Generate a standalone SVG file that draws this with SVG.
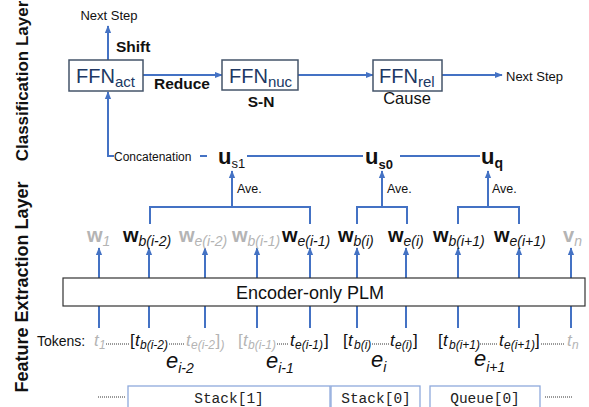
<svg xmlns="http://www.w3.org/2000/svg" width="589" height="407" viewBox="0 0 589 407">
<defs>
<marker id="ah" viewBox="0 0 10 10" refX="9" refY="5" markerWidth="8" markerHeight="8" markerUnits="userSpaceOnUse" orient="auto"><path d="M0,1 L10,5 L0,9 z" fill="#4472c4"/></marker>
</defs>
<style>
text{font-family:"Liberation Sans",Arial,sans-serif;fill:#111}
.lay{font-size:18px;font-weight:bold}
.ffnbox{fill:#fff;stroke:#44546a;stroke-width:1.5}
.ffn{font-size:20px;fill:#203864}
.ffs{font-size:15px;fill:#203864}
.lbl{font-size:15.5px;font-weight:bold}
.sm{font-size:13px}
.ave{font-size:12.5px}
.c{fill:none;stroke:#4472c4;stroke-width:2}
.ca{fill:none;stroke:#4472c4;stroke-width:2;marker-end:url(#ah)}
.u{font-size:22px;font-weight:bold}
.us{font-size:13px}
.w{font-size:20px;font-weight:bold}
.ws{font-size:14px;font-style:italic;font-weight:normal}
.g{fill:#b4b4b4}
.tk{font-size:17px;font-style:italic}
.br{font-size:17px}
.ts{font-size:12px;font-style:italic}
.dot{stroke:#333;stroke-width:1;stroke-dasharray:1 1;fill:none}
.e{font-size:22px;font-style:italic}
.es{font-size:14px;font-style:italic}
.mono{font-family:"Liberation Mono","Courier New",monospace;font-size:14.5px;fill:#222}
.sbox{fill:#fff;stroke:#8faadc;stroke-width:1.3}
</style>
<rect width="589" height="407" fill="#fff"/>

<g id="layer-labels">
<text class="lay" text-anchor="middle" transform="translate(28,81) rotate(-90)" style="font-size:17px">Classification Layer</text>
<text class="lay" text-anchor="middle" transform="translate(28,287) rotate(-90)">Feature Extraction Layer</text>
</g>

<g id="connectors">
<line class="ca" x1="108" y1="60" x2="108" y2="26"/>
<line class="ca" x1="143" y1="75" x2="222" y2="75"/>
<line class="ca" x1="298" y1="75" x2="373" y2="75"/>
<line class="ca" x1="442" y1="75" x2="502" y2="75"/>
<polyline class="ca" points="114,156 108,156 108,92"/>
<line class="c" x1="200" y1="156" x2="207" y2="156"/>
<line class="c" x1="247" y1="156" x2="363" y2="156"/>
<line class="c" x1="400" y1="156" x2="480" y2="156"/>
<line class="ca" x1="232" y1="207" x2="232" y2="171"/>
<line class="ca" x1="382" y1="207" x2="382" y2="171"/>
<line class="ca" x1="488" y1="207" x2="488" y2="171"/>
<polyline class="c" points="150,224 150,207 310,207 310,224"/>
<polyline class="c" points="357,224 357,207 407,207 407,224"/>
<polyline class="c" points="458,224 458,207 519,207 519,224"/>
<g>
<line class="ca" x1="99" y1="278" x2="99" y2="248"/>
<line class="ca" x1="149" y1="278" x2="149" y2="248"/>
<line class="ca" x1="205" y1="278" x2="205" y2="248"/>
<line class="ca" x1="257" y1="278" x2="257" y2="248"/>
<line class="ca" x1="310" y1="278" x2="310" y2="248"/>
<line class="ca" x1="357" y1="278" x2="357" y2="248"/>
<line class="ca" x1="406" y1="278" x2="406" y2="248"/>
<line class="ca" x1="458" y1="278" x2="458" y2="248"/>
<line class="ca" x1="519" y1="278" x2="519" y2="248"/>
<line class="ca" x1="571" y1="278" x2="571" y2="248"/>
</g>
<g>
<line class="c" x1="99" y1="306" x2="99" y2="328"/>
<line class="c" x1="149" y1="306" x2="149" y2="328"/>
<line class="c" x1="205" y1="306" x2="205" y2="328"/>
<line class="c" x1="257" y1="306" x2="257" y2="328"/>
<line class="c" x1="310" y1="306" x2="310" y2="328"/>
<line class="c" x1="357" y1="306" x2="357" y2="328"/>
<line class="c" x1="406" y1="306" x2="406" y2="328"/>
<line class="c" x1="458" y1="306" x2="458" y2="328"/>
<line class="c" x1="519" y1="306" x2="519" y2="328"/>
<line class="c" x1="571" y1="306" x2="571" y2="328"/>
</g>
</g>

<g id="next-step-top"><text class="sm" x="109" y="20" text-anchor="middle">Next Step</text></g>
<g id="label-shift"><text class="lbl" x="116" y="52">Shift</text></g>
<g id="label-reduce"><text class="lbl" x="154" y="89">Reduce</text></g>
<g id="label-sn"><text class="lbl" x="261" y="107" text-anchor="middle">S-N</text></g>
<g id="label-cause"><text x="407" y="104" text-anchor="middle" style="font-size:16.5px">Cause</text></g>
<g id="next-step-right"><text class="sm" x="506" y="81">Next Step</text></g>

<g id="ffn-act">
<rect class="ffnbox" x="69" y="60" width="74" height="31"/>
<text x="76" y="83"><tspan class="ffn">FFN</tspan><tspan class="ffs" dy="4">act</tspan></text>
</g>
<g id="ffn-nuc">
<rect class="ffnbox" x="222" y="60" width="76" height="30"/>
<text x="229" y="83"><tspan class="ffn">FFN</tspan><tspan class="ffs" dy="4">nuc</tspan></text>
</g>
<g id="ffn-rel">
<rect class="ffnbox" x="373" y="60" width="69" height="31"/>
<text x="379" y="83"><tspan class="ffn">FFN</tspan><tspan class="ffs" dy="4">rel</tspan></text>
</g>

<g id="concat"><text x="114" y="161" style="font-size:12px">Concatenation</text></g>
<g id="u-s1"><text x="218" y="164"><tspan class="u">u</tspan><tspan class="us" dy="4">s1</tspan></text></g>
<g id="u-s0"><text x="365" y="164"><tspan class="u">u</tspan><tspan class="us" dy="5" font-weight="bold">s0</tspan></text></g>
<g id="u-q"><text x="481" y="164"><tspan class="u">u</tspan><tspan class="us" dy="4" font-weight="bold" style="font-size:14px">q</tspan></text></g>
<g id="ave">
<text class="ave" x="237" y="193">Ave.</text>
<text class="ave" x="387" y="193">Ave.</text>
<text class="ave" x="492" y="193">Ave.</text>
</g>

<g id="w-labels">
<text x="87" y="242" class="g"><tspan class="w g">w</tspan><tspan class="ws g" dy="4">1</tspan></text>
<text x="123" y="242"><tspan class="w">w</tspan><tspan class="ws" dy="4">b(i-2)</tspan></text>
<text x="179" y="242"><tspan class="w g">w</tspan><tspan class="ws g" dy="4">e(i-2)</tspan></text>
<text x="232" y="242"><tspan class="w g">w</tspan><tspan class="ws g" dy="4">b(i-1)</tspan></text>
<text x="282" y="242"><tspan class="w">w</tspan><tspan class="ws" dy="4">e(i-1)</tspan></text>
<text x="338" y="242"><tspan class="w">w</tspan><tspan class="ws" dy="4">b(i)</tspan></text>
<text x="388" y="242"><tspan class="w">w</tspan><tspan class="ws" dy="4">e(i)</tspan></text>
<text x="433" y="242"><tspan class="w">w</tspan><tspan class="ws" dy="4">b(i+1)</tspan></text>
<text x="494" y="242"><tspan class="w">w</tspan><tspan class="ws" dy="4">e(i+1)</tspan></text>
<text x="563" y="242"><tspan class="w g">v</tspan><tspan class="ws g" dy="4">n</tspan></text>
</g>

<g id="encoder">
<rect x="63" y="278" width="522" height="28" fill="#fff" stroke="#333" stroke-width="1.2"/>
<text x="310" y="299" text-anchor="middle" style="font-size:18px">Encoder-only PLM</text>
</g>

<g id="tokens">
<text x="37" y="346" style="font-size:14px">Tokens:</text>
<text class="tk g" x="94" y="346">t</text><text class="ts g" x="99" y="349">1</text>
<line class="dot" x1="106" y1="344" x2="129" y2="344"/>
<text class="br" x="130" y="346">[</text><text class="tk" x="135" y="346">t</text><text class="ts" x="140" y="349">b(i-2)</text>
<line class="dot" x1="169" y1="344" x2="185" y2="344"/>
<text class="tk g" x="186" y="346">t</text><text class="ts g" x="191" y="349">e(i-2</text><text class="br g" x="215.5" y="346">]</text><text class="ts g" x="220.5" y="349">)</text>
<text class="br g" x="238" y="346">[</text><text class="tk g" x="243" y="346">t</text><text class="ts g" x="248" y="349">b(i-1)</text>
<line class="dot" x1="277" y1="344" x2="289" y2="344"/>
<text class="tk" x="290" y="346">t</text><text class="ts" x="295" y="349">e(i-1)</text><text class="br" x="324" y="346">]</text>
<text class="br" x="343" y="346">[</text><text class="tk" x="348" y="346">t</text><text class="ts" x="354" y="349">b(i)</text>
<line class="dot" x1="372" y1="344" x2="389" y2="344"/>
<text class="tk" x="390" y="346">t</text><text class="ts" x="395" y="349">e(i)</text><text class="br" x="413" y="346">]</text>
<text class="br" x="438" y="346">[</text><text class="tk" x="443" y="346">t</text><text class="ts" x="449" y="349">b(i+1)</text>
<line class="dot" x1="480" y1="344" x2="498" y2="344"/>
<text class="tk" x="499" y="346">t</text><text class="ts" x="504" y="349">e(i+1)</text><text class="br" x="535" y="346">]</text>
<line class="dot" x1="541" y1="344" x2="565" y2="344"/>
<text class="tk g" x="567" y="346">t</text><text class="ts g" x="572" y="349">n</text>
</g>

<g id="edus">
<text x="166" y="368"><tspan class="e">e</tspan><tspan class="es" dy="5">i-2</tspan></text>
<text x="266" y="368"><tspan class="e">e</tspan><tspan class="es" dy="5">i-1</tspan></text>
<text x="371" y="367"><tspan class="e">e</tspan><tspan class="es" dy="5">i</tspan></text>
<text x="474" y="366"><tspan class="e">e</tspan><tspan class="es" dy="6">i+1</tspan></text>
</g>

<g id="stack-queue">
<line class="dot" x1="98" y1="397" x2="125" y2="397"/>
<rect class="sbox" x="128" y="386" width="202" height="30"/>
<text class="mono" x="229" y="403" text-anchor="middle">Stack[1]</text>
<rect class="sbox" x="331" y="386" width="89" height="30"/>
<text class="mono" x="376" y="403" text-anchor="middle">Stack[0]</text>
<rect class="sbox" x="430" y="386" width="110" height="30"/>
<text class="mono" x="485" y="403" text-anchor="middle">Queue[0]</text>
<line class="dot" x1="545" y1="397" x2="573" y2="397"/>
</g>
</svg>
